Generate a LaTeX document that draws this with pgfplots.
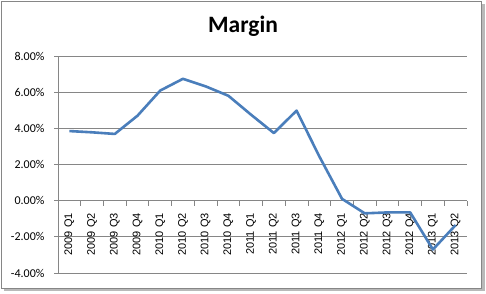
\documentclass[border=0pt]{standalone}
\usepackage{fontspec}
\setmainfont{Carlito}
\newfontfamily\arialf{Liberation Sans}
\usepackage{pgfplots}
\pgfplotsset{compat=1.18}
\definecolor{linecol}{HTML}{4A7EBB}
\definecolor{gridcol}{HTML}{868686}
\begin{document}
\begin{tikzpicture}[x=1pt,y=1pt]
\useasboundingbox (0,0) rectangle (486,293);
\fill[gray!55] (4,2) rectangle (484.5,289.5);
\draw[fill=white,draw=gridcol,line width=1pt] (1,5) rectangle (481,292);
\node[font=\fontsize{23.5}{26}\selectfont\bfseries] at (243,267) {Margin};
\begin{axis}[
  at={(58pt,20pt)}, anchor=south west,
  scale only axis, width=409pt, height=217pt,
  xmin=-0.5, xmax=17.5, ymin=-4, ymax=8,
  axis x line*=middle, axis y line*=left,
  axis line style={draw=gridcol, line width=0.8pt},
  ytick={-4,-2,0,2,4,6,8},
  yticklabels={-4.00\%,-2.00\%,0.00\%,2.00\%,4.00\%,6.00\%,8.00\%},
  yticklabel style={font=\fontsize{12}{13}\selectfont, xshift=-6pt},
  ymajorgrids,
  grid style={draw=gridcol, line width=0.8pt},
  major tick length=4pt,
  tick align=outside,
  ytick style={draw=gridcol, line width=0.8pt},
  xtick={0,...,17},
  xticklabels={2009 Q1,2009 Q2,2009 Q3,2009 Q4,2010 Q1,2010 Q2,2010 Q3,2010 Q4,2011 Q1,2011 Q2,2011 Q3,2011 Q4,2012 Q1,2012 Q2,2012 Q3,2012 Q4,2013 Q1,2013 Q2},
  xtick style={draw=none},
  xticklabel style={font=\arialf\fontsize{11}{12}\selectfont, rotate=90, anchor=east, xshift=-5pt},
  extra x ticks={-0.5,0.5,...,17.5},
  extra x tick labels={},
  extra x tick style={xtick style={draw=gridcol, line width=0.8pt}, major tick length=5pt, tick align=outside},
  clip=false,
]
\addplot[linecol, line width=2.6pt, line join=round] coordinates {
(0,3.85) (1,3.78) (2,3.69) (3,4.7) (4,6.09) (5,6.74) (6,6.32) (7,5.8)
(8,4.75) (9,3.74) (10,4.98) (11,2.45) (12,0.1) (13,-0.7) (14,-0.65) (15,-0.65)
(16,-2.7) (17,-1.35)};
\end{axis}
\end{tikzpicture}
\end{document}
